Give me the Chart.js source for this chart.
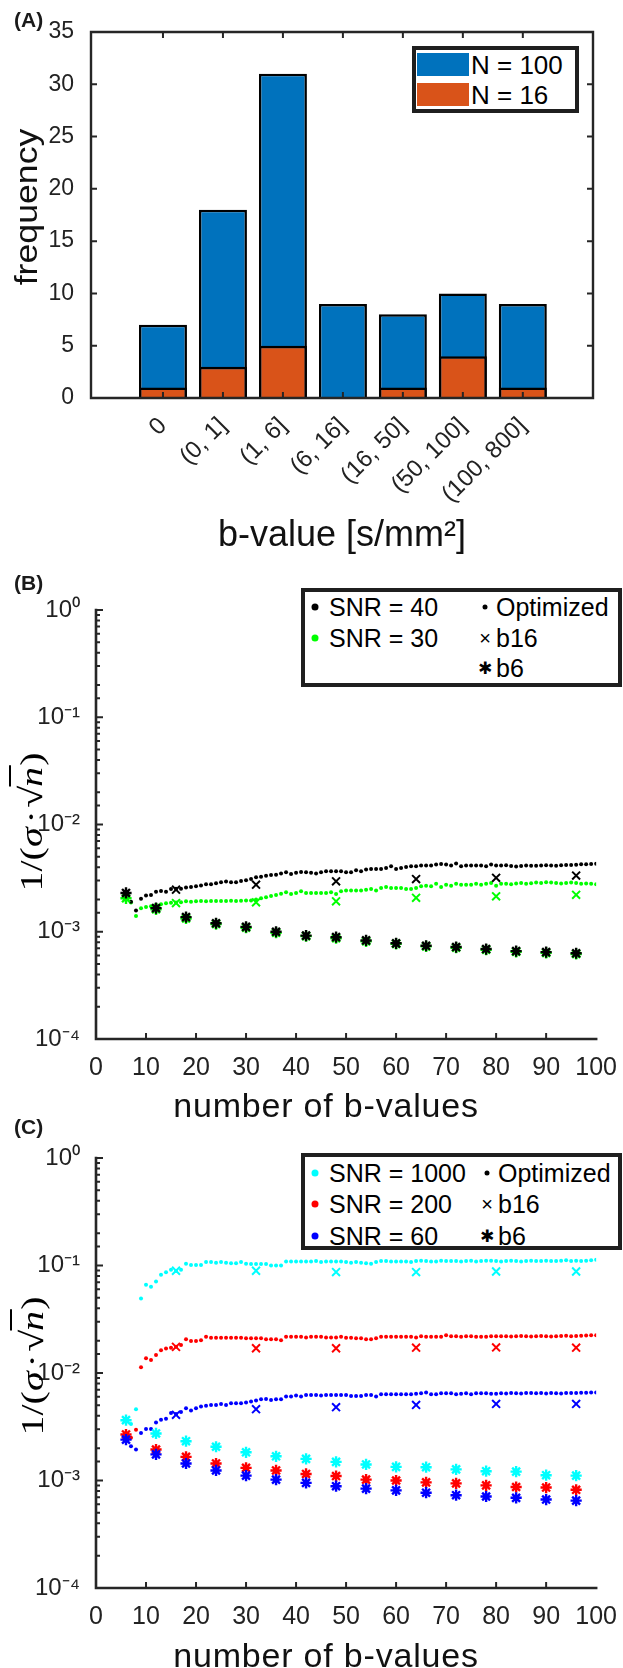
<!DOCTYPE html>
<html><head><meta charset="utf-8">
<script src="https://cdn.jsdelivr.net/npm/chart.js@4.4.0/dist/chart.umd.min.js"></script>
<style>
html,body{margin:0;padding:0;background:#fff;width:623px;height:1668px;overflow:hidden;position:relative;font-family:"Liberation Sans",Arial,sans-serif;color:#000}
canvas{position:absolute;left:0}
.t{position:absolute;white-space:nowrap;line-height:1;transform:translateY(-50%)}
.c{transform:translate(-50%,-50%)}
.pl{font-weight:bold;font-size:21px;color:#1a1a1a}
.lg{position:absolute;border:4px solid #1f1f1f;background:#fff;box-sizing:border-box}
.lt{font-size:25px}
.dot{position:absolute;border-radius:50%;transform:translate(-50%,-50%)}
.mk{position:absolute;line-height:1;transform:translate(-50%,-50%);color:#000}
.sw{position:absolute}
.ylab{font-family:"Liberation Serif","DejaVu Serif",serif;font-size:32px;transform:translate(-50%,-50%) rotate(-90deg) scaleX(1.25)}
.ylab i{font-style:italic}
.sg{margin-right:3px}
.md{margin-right:2px}
.ov{border-top:2px solid #000;padding-top:2px;margin-left:-1px;padding-right:1px}
.xl{font-size:34px;letter-spacing:0.8px;color:#111}
</style></head><body>
<canvas id="cA" width="623" height="520" style="top:0"></canvas>
<canvas id="cB" width="623" height="530" style="top:560px"></canvas>
<canvas id="cC" width="623" height="530" style="top:1120px"></canvas>

<div class="t pl" style="left:14px;top:19px">(A)</div>
<div class="t pl" style="left:14px;top:582px">(B)</div>
<div class="t pl" style="left:14px;top:1126px">(C)</div>

<div class="t" style="left:26px;top:207px;font-size:31px;color:#111;transform:translate(-50%,-50%) rotate(-90deg) scaleX(1.15)">frequency</div>
<div class="t c" style="left:342px;top:534px;font-size:36px;color:#111">b-value [s/mm²]</div>

<div class="t ylab" style="left:31px;top:822px">1/(<i class="sg">σ</i><span class="md">·</span>√<span class="ov"><i>n</i></span>)</div>
<div class="t c xl" style="left:326px;top:1105px">number of b-values</div>
<div class="t ylab" style="left:32px;top:1366px">1/(<i class="sg">σ</i><span class="md">·</span>√<span class="ov"><i>n</i></span>)</div>
<div class="t c xl" style="left:326px;top:1655px">number of b-values</div>

<!-- legend A -->
<div class="lg" style="left:412px;top:46px;width:167px;height:67px"></div>
<div class="sw" style="left:417px;top:53px;width:52px;height:23px;background:#0072BD"></div>
<div class="sw" style="left:417px;top:83px;width:52px;height:23px;background:#D95319"></div>
<div class="t" style="left:471px;top:65px;font-size:26px">N = 100</div>
<div class="t" style="left:471px;top:95px;font-size:26px">N = 16</div>

<!-- legend B -->
<div class="lg" style="left:301px;top:588px;width:321px;height:99px"></div>
<div class="dot" style="left:315px;top:607px;width:7px;height:7px;background:#000"></div>
<div class="t lt" style="left:329px;top:607px">SNR = 40</div>
<div class="dot" style="left:315px;top:638px;width:7px;height:7px;background:#00ff00"></div>
<div class="t lt" style="left:329px;top:638px">SNR = 30</div>
<div class="dot" style="left:485px;top:607px;width:5px;height:5px;background:#000"></div>
<div class="t lt" style="left:496px;top:607px">Optimized</div>
<div class="mk" style="left:485px;top:638px;font-size:20px">×</div>
<div class="t lt" style="left:496px;top:638px">b16</div>
<div class="mk" style="left:485px;top:668px;font-size:17px;font-family:'DejaVu Sans'">✱</div>
<div class="t lt" style="left:496px;top:668px">b6</div>

<!-- legend C -->
<div class="lg" style="left:301px;top:1153px;width:321px;height:97px"></div>
<div class="dot" style="left:315px;top:1173px;width:7px;height:7px;background:#00ffff"></div>
<div class="t lt" style="left:329px;top:1173px">SNR = 1000</div>
<div class="dot" style="left:315px;top:1204px;width:7px;height:7px;background:#ff0000"></div>
<div class="t lt" style="left:329px;top:1204px">SNR = 200</div>
<div class="dot" style="left:315px;top:1236px;width:7px;height:7px;background:#0000ff"></div>
<div class="t lt" style="left:329px;top:1236px">SNR = 60</div>
<div class="dot" style="left:487px;top:1173px;width:5px;height:5px;background:#000"></div>
<div class="t lt" style="left:498px;top:1173px">Optimized</div>
<div class="mk" style="left:487px;top:1204px;font-size:20px">×</div>
<div class="t lt" style="left:498px;top:1204px">b16</div>
<div class="mk" style="left:487px;top:1236px;font-size:17px;font-family:'DejaVu Sans'">✱</div>
<div class="t lt" style="left:498px;top:1236px">b6</div>

<script>
// ---------- Panel A data ----------
const binLabels = ['0', '(0, 1]', '(1, 6]', '(6, 16]', '(16, 50]', '(50, 100]', '(100, 800]'];
const freqN100 = [7, 18, 31, 9, 8, 10, 9];
const freqN16 = [1, 3, 5, 0, 1, 4, 1];

// ---------- x positions (number of b-values) ----------
const nOptimized = [6,7,8,9,10,11,12,13,14,15,16,17,18,19,20,21,22,23,24,25,26,27,28,29,30,31,32,33,34,35,36,37,38,39,40,41,42,43,44,45,46,47,48,49,50,51,52,53,54,55,56,57,58,59,60,61,62,63,64,65,66,67,68,69,70,71,72,73,74,75,76,77,78,79,80,81,82,83,84,85,86,87,88,89,90,91,92,93,94,95,96,97,98,99,100];
const nB16 = [16, 32, 48, 64, 80, 96];
const nB6 = [6, 12, 18, 24, 30, 36, 42, 48, 54, 60, 66, 72, 78, 84, 90, 96];

// ---------- Panel B data ----------
const bSnr40Optimized = [0.0023,0.0019,0.00158,0.00203,0.00218,0.0022,0.00236,0.0024,0.00236,0.0025,0.00252,0.00252,0.00258,0.00262,0.00266,0.0027,0.00278,0.00278,0.00284,0.0029,0.00294,0.0029,0.0029,0.00298,0.00302,0.0031,0.00322,0.00325,0.00332,0.00338,0.0034,0.0035,
0.00358,0.00345,0.00354,0.00361,0.00358,0.00354,0.0035,0.00358,0.00366,0.00366,0.00366,0.00366,0.00358,0.00358,0.00374,0.00366,0.0038,0.00385,0.00385,0.00385,0.00394,0.00408,0.00385,0.00394,0.00402,0.00408,0.00408,0.00414,0.00414,0.00414,0.00423,0.00429,0.00423,0.00414,0.00432,0.00408,0.00414,0.00414,0.00414,0.00414,0.00408,0.00423,0.00414,0.00414,
0.00418,0.0041,0.00405,0.0041,0.00415,0.00412,0.00412,0.00415,0.00418,0.00415,0.00412,0.00418,0.0042,0.0042,0.00422,0.00425,0.00425,0.00428,0.0043];
const bSnr30Optimized = [0.00205,0.00187,0.0014,0.00166,0.0017,0.00173,0.00179,0.0018,0.00184,0.00186,0.00187,0.00188,0.00192,0.0019,0.00192,0.00193,0.00192,0.00193,0.00194,0.00193,0.00194,0.00195,0.00194,0.00195,0.00196,0.00196,0.002,0.00205,0.0021,0.00215,0.0022,0.00226,
0.00233,0.00225,0.0023,0.00238,0.0023,0.0023,0.0023,0.0023,0.0023,0.00233,0.00225,0.00238,0.00243,0.00243,0.00243,0.00243,0.00247,0.00251,0.00243,0.00256,0.00261,0.00256,0.00256,0.00256,0.00251,0.00251,0.00256,0.00265,0.00269,0.00265,0.00281,0.00261,0.00275,0.00269,0.00281,0.00275,0.00275,0.00275,0.00281,0.00275,0.00281,0.00285,0.00269,0.00281,
0.0028,0.00278,0.00282,0.00285,0.0028,0.00283,0.00288,0.00285,0.0029,0.00288,0.00285,0.00282,0.00285,0.00288,0.00285,0.0028,0.00282,0.0028,0.00278];
const bSnr40B16 = [0.00247, 0.00275, 0.00295, 0.0031, 0.00318, 0.00334];
const bSnr30B16 = [0.00185, 0.00188, 0.00192, 0.00207, 0.00214, 0.00221];
const bSnr40B6 = [0.0023,0.00166,0.00137,0.0012,0.00111,0.001,0.00092,0.00089,0.00083,0.00078,0.00074,0.00072,0.00069,0.00066,0.000645,0.00063];
const bSnr30B6 = [0.00205,0.00162,0.00133,0.00118,0.00109,0.00098,0.00091,0.00087,0.000815,0.00077,0.00073,0.00071,0.00068,0.00065,0.000635,0.00062];

// ---------- Panel C data ----------
const cSnr1000Optimized = [0.0036,0.00335,0.0046,0.0492,0.0662,0.0635,0.0711,0.082,0.0867,0.0912,0.089,0.0912,0.1037,0.101,0.101,0.101,0.1075,0.1075,0.106,0.1075,0.106,0.105,0.105,0.1075,0.104,0.103,0.103,0.103,0.103,0.1,0.1,0.1,
0.109,0.109,0.109,0.109,0.109,0.109,0.11,0.1075,0.109,0.109,0.109,0.109,0.1075,0.106,0.1075,0.106,0.105,0.104,0.1075,0.11,0.11,0.109,0.109,0.109,0.109,0.1075,0.11,0.111,0.11,0.109,0.109,0.111,0.11,0.11,0.11,0.109,0.11,0.111,0.109,0.11,0.111,0.111,0.11,0.109,
0.11,0.111,0.11,0.109,0.11,0.111,0.11,0.11,0.111,0.11,0.11,0.111,0.112,0.11,0.111,0.11,0.111,0.112,0.113];
const cSnr200Optimized = [0.0027,0.0025,0.00297,0.0113,0.0137,0.0132,0.0147,0.0163,0.0169,0.0172,0.0175,0.0182,0.0206,0.0198,0.0198,0.0202,0.0217,0.0213,0.0213,0.0213,0.0213,0.0213,0.0213,0.0213,0.021,0.021,0.021,0.021,0.0206,0.0206,0.0206,0.0202,
0.0217,0.0217,0.0217,0.0217,0.0214,0.0217,0.0217,0.0217,0.0214,0.0214,0.0214,0.0217,0.0213,0.0213,0.021,0.021,0.0206,0.0206,0.021,0.0217,0.0217,0.0217,0.0217,0.0217,0.0217,0.0217,0.0214,0.022,0.0217,0.0217,0.0217,0.0217,0.0225,0.022,0.022,0.0217,0.022,0.022,0.0217,0.0217,0.0217,0.022,0.022,0.022,
0.022,0.0218,0.022,0.0221,0.022,0.0219,0.022,0.0221,0.022,0.0218,0.022,0.0221,0.0222,0.022,0.0221,0.0222,0.0223,0.0224,0.0224];
const cSnr60Optimized = [0.0024,0.00208,0.00194,0.00276,0.00301,0.00301,0.00347,0.00367,0.00375,0.00424,0.00415,0.00433,0.00471,0.00448,0.00471,0.00487,0.00497,0.00505,0.00505,0.00516,0.00505,0.00524,0.00524,0.00524,0.00531,0.00542,0.00554,0.0057,0.00574,0.00562,0.0057,0.0057,
0.00604,0.00604,0.00617,0.00604,0.00625,0.00625,0.00625,0.00617,0.00625,0.00625,0.00625,0.00625,0.00625,0.00612,0.00612,0.00612,0.00625,0.00625,0.00604,0.00635,0.00635,0.00635,0.00635,0.00635,0.00635,0.00635,0.00642,0.00649,0.00657,0.00635,0.00635,0.00649,0.00649,0.00649,0.00635,0.00642,0.00649,0.00635,0.00649,0.00649,0.00649,0.00642,0.00642,0.00649,
0.00645,0.0065,0.00648,0.00645,0.0065,0.00652,0.00648,0.0065,0.00645,0.0065,0.00648,0.00645,0.0065,0.00652,0.0065,0.00655,0.00655,0.00658,0.0066];
const cSnr1000B16 = [0.0893, 0.0893, 0.0868, 0.0868, 0.088, 0.088];
const cSnr200B16 = [0.0175, 0.017, 0.017, 0.0172, 0.0173, 0.0172];
const cSnr60B16 = [0.00408, 0.00461, 0.00481, 0.00505, 0.00516, 0.00516];
const cSnr1000B6 = [0.00364,0.00274,0.00232,0.00206,0.00183,0.00168,0.00159,0.00149,0.00141,0.00134,0.00133,0.00127,0.00122,0.00121,0.00112,0.00111];
const cSnr200B6 = [0.00268,0.00194,0.00166,0.00144,0.00131,0.00124,0.00115,0.0011,0.00102,0.001,0.00096,0.00094,0.0009,0.00087,0.00086,0.00082];
const cSnr60B6 = [0.0024,0.00175,0.00144,0.00124,0.00111,0.00102,0.00095,0.000885,0.00084,0.00081,0.00077,0.00073,0.00071,0.00069,0.000665,0.00065];

// ---------- helpers ----------
const FONT = '"Liberation Sans", Arial, sans-serif';
Chart.defaults.font.family = FONT;
Chart.defaults.color = '#262626';
const SUP = {'-':'⁻','0':'⁰','1':'¹','2':'²','3':'³','4':'⁴','5':'⁵','6':'⁶','7':'⁷','8':'⁸','9':'⁹'};
function isPow10(v) { const l = Math.log10(v); return Math.abs(l - Math.round(l)) < 1e-6; }
function powLabel(v) {
  if (!isPow10(v)) return '';
  const e = String(Math.round(Math.log10(v)));
  return '10' + e.split('').map(c => SUP[c]).join('');
}
const framePlugin = {
  id: 'frame',
  afterDatasetsDraw(chart, args, o) {
    const {ctx, chartArea: a} = chart;
    const xs = chart.scales.x, ys = chart.scales.y;
    ctx.save();
    ctx.strokeStyle = '#262626';
    ctx.lineWidth = o.tickW;
    ctx.beginPath();
    xs.ticks.forEach(t => {
      const px = xs.getPixelForValue(t.value);
      if (px < a.left + 1 || px > a.right - 1) return;
      ctx.moveTo(px, a.bottom); ctx.lineTo(px, a.bottom - o.xLen);
      if (o.box) { ctx.moveTo(px, a.top); ctx.lineTo(px, a.top + o.xLen); }
    });
    ys.ticks.forEach(t => {
      const py = ys.getPixelForValue(t.value);
      const len = (o.log && !isPow10(t.value)) ? o.minorLen : o.yLen;
      ctx.moveTo(a.left, py); ctx.lineTo(a.left + len, py);
      if (o.box) { ctx.moveTo(a.right, py); ctx.lineTo(a.right - len, py); }
    });
    ctx.stroke();
    ctx.lineWidth = o.axisW;
    ctx.lineCap = 'square';
    ctx.beginPath();
    if (o.box) {
      ctx.rect(a.left, a.top, a.right - a.left, a.bottom - a.top);
    } else {
      ctx.moveTo(a.left, a.top); ctx.lineTo(a.left, a.bottom); ctx.lineTo(a.right, a.bottom);
    }
    ctx.stroke();
    ctx.restore();
  }
};
const basePlugins = { legend: { display: false }, tooltip: { enabled: false } };
function pts(xs, ys) { return xs.map((x, i) => ({ x: x, y: ys[i] })); }
function dots(label, ys, color, order) {
  return { label, data: pts(nOptimized, ys), pointStyle: 'circle', pointRadius: 2, pointBorderWidth: 0,
           backgroundColor: color, borderColor: color, showLine: false, order };
}
function crosses(label, ys, color, order) {
  return { label, data: pts(nB16, ys), pointStyle: 'crossRot', pointRadius: 5.6, pointBorderWidth: 2,
           backgroundColor: color, borderColor: color, showLine: false, order };
}
function stars(label, ys, color, order) {
  return { label, data: pts(nB6, ys), pointStyle: 'star', pointRadius: 5.6, pointBorderWidth: 2.4,
           backgroundColor: color, borderColor: color, showLine: false, order };
}
function logOptions(padTop, xHeight) {
  return {
    responsive: false, animation: false, devicePixelRatio: 1, events: [],
    layout: { padding: { top: padTop, right: 21, left: 0, bottom: 0 } },
    scales: {
      x: { type: 'linear', min: 0, max: 100, afterFit: s => { s.height = xHeight; },
           grid: { display: false }, border: { display: false },
           ticks: { stepSize: 10, maxRotation: 0, minRotation: 0, autoSkip: false, padding: 6, font: { size: 25 }, color: '#222' } },
      y: { type: 'logarithmic', min: 1e-4, max: 1, afterFit: s => { s.width = 96; },
           grid: { display: false }, border: { display: false },
           ticks: { autoSkip: false, padding: 8, font: { size: 24 }, color: '#222', callback: v => powLabel(v) } }
    },
    plugins: Object.assign({}, basePlugins, { frame: { box: false, log: true, xLen: 6, yLen: 7, minorLen: 4, tickW: 2, axisW: 2.6 } })
  };
}

// ---------- Panel A ----------
new Chart(document.getElementById('cA'), {
  type: 'bar',
  data: { datasets: [
    { label: 'N = 16', data: pts(binLabels.map((_, i) => i + 1), freqN16), backgroundColor: '#D95319', borderColor: '#000',
      borderWidth: 2.5, grouped: false, barPercentage: 0.8, categoryPercentage: 1, order: 0 },
    { label: 'N = 100', data: pts(binLabels.map((_, i) => i + 1), freqN100), backgroundColor: '#0072BD', borderColor: '#000',
      borderWidth: 2.5, grouped: false, barPercentage: 0.8, categoryPercentage: 1, order: 1 }
  ] },
  options: {
    responsive: false, animation: false, devicePixelRatio: 1, events: [],
    layout: { padding: { top: 32, right: 30, left: 0, bottom: 0 } },
    scales: {
      x: { type: 'linear', min: -0.2, max: 8.17, offset: false,
           afterBuildTicks: s => { s.ticks = binLabels.map((_, i) => ({ value: i + 1 })); },
           afterFit: s => { s.height = 122; },
           grid: { display: false }, border: { display: false },
           ticks: { autoSkip: false, minRotation: 45, maxRotation: 45, padding: 6, font: { size: 24 }, color: '#222',
                    callback: v => binLabels[Math.round(v) - 1] } },
      y: { min: 0, max: 35, afterFit: s => { s.width = 91; },
           grid: { display: false }, border: { display: false },
           ticks: { stepSize: 5, padding: 9, font: { size: 23 }, color: '#222' } }
    },
    plugins: Object.assign({}, basePlugins, { frame: { box: true, log: false, xLen: 6, yLen: 6, minorLen: 3, tickW: 2, axisW: 2.4 } })
  },
  plugins: [framePlugin]
});

// ---------- Panel B ----------
new Chart(document.getElementById('cB'), {
  type: 'scatter',
  data: { datasets: [
    stars('SNR = 40 b6', bSnr40B6, '#000000', 0),
    stars('SNR = 30 b6', bSnr30B6, '#00ff00', 1),
    crosses('SNR = 40 b16', bSnr40B16, '#000000', 2),
    crosses('SNR = 30 b16', bSnr30B16, '#00ff00', 3),
    dots('SNR = 40 Optimized', bSnr40Optimized, '#000000', 4),
    dots('SNR = 30 Optimized', bSnr30Optimized, '#00ff00', 5)
  ] },
  options: logOptions(50, 51),
  plugins: [framePlugin]
});

// ---------- Panel C ----------
new Chart(document.getElementById('cC'), {
  type: 'scatter',
  data: { datasets: [
    stars('SNR = 60 b6', cSnr60B6, '#0000ff', 0),
    stars('SNR = 200 b6', cSnr200B6, '#ff0000', 1),
    stars('SNR = 1000 b6', cSnr1000B6, '#00ffff', 2),
    crosses('SNR = 60 b16', cSnr60B16, '#0000ff', 3),
    crosses('SNR = 200 b16', cSnr200B16, '#ff0000', 4),
    crosses('SNR = 1000 b16', cSnr1000B16, '#00ffff', 5),
    dots('SNR = 60 Optimized', cSnr60Optimized, '#0000ff', 6),
    dots('SNR = 200 Optimized', cSnr200Optimized, '#ff0000', 7),
    dots('SNR = 1000 Optimized', cSnr1000Optimized, '#00ffff', 8)
  ] },
  options: logOptions(38, 62),
  plugins: [framePlugin]
});
</script>
</body></html>
